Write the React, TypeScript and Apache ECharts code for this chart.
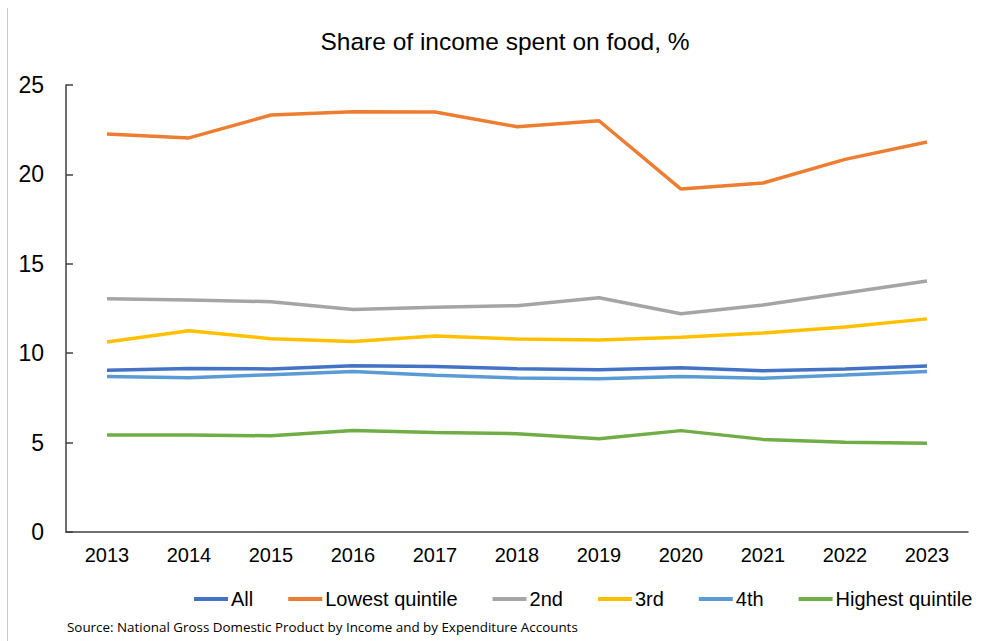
import React, { useEffect, useRef } from "react";
import * as echarts from "echarts";

const years = ["2013", "2014", "2015", "2016", "2017", "2018", "2019", "2020", "2021", "2022", "2023"];
const allHouseholds = [9.04, 9.15, 9.12, 9.3, 9.25, 9.13, 9.08, 9.19, 9.02, 9.12, 9.28];
const lowestQuintile = [22.26, 22.04, 23.32, 23.5, 23.49, 22.67, 23.0, 19.18, 19.52, 20.84, 21.81];
const secondQuintile = [13.05, 12.98, 12.88, 12.45, 12.57, 12.66, 13.1, 12.21, 12.7, 13.37, 14.04];
const thirdQuintile = [10.63, 11.26, 10.81, 10.66, 10.96, 10.79, 10.74, 10.89, 11.13, 11.47, 11.92];
const fourthQuintile = [8.69, 8.63, 8.8, 8.97, 8.76, 8.61, 8.57, 8.69, 8.6, 8.78, 8.97];
const highestQuintile = [5.43, 5.43, 5.38, 5.67, 5.56, 5.5, 5.22, 5.67, 5.18, 5.02, 4.96];

const seriesDefs = [
  { name: "All", data: allHouseholds, color: "#4472C4" },
  { name: "Lowest quintile", data: lowestQuintile, color: "#ED7D31" },
  { name: "2nd", data: secondQuintile, color: "#A5A5A5" },
  { name: "3rd", data: thirdQuintile, color: "#FFC000" },
  { name: "4th", data: fourthQuintile, color: "#5B9BD5" },
  { name: "Highest quintile", data: highestQuintile, color: "#70AD47" },
];

const FONT = "Liberation Sans, Arial, sans-serif";

export default function App() {
  const ref = useRef<HTMLDivElement>(null);
  useEffect(() => {
    if (!ref.current) return;
    const chart = echarts.init(ref.current, null, { renderer: "svg" });
    chart.setOption({
      animation: false,
      backgroundColor: "#ffffff",
      title: {
        text: "Share of income spent on food, %",
        left: 500,
        textAlign: "center",
        top: 24,
        textStyle: { fontFamily: FONT, fontSize: 24.5, fontWeight: "normal", color: "#000" },
      },
      grid: { left: 66, right: 13, top: 85, bottom: 109, containLabel: false },
      legend: {
        left: 189,
        top: 584,
        itemWidth: 34,
        itemHeight: 4,
        itemGap: 35,
        icon: "rect",
        textStyle: { fontFamily: FONT, fontSize: 20, color: "#000", padding: [0, 0, 0, -2] },
        data: seriesDefs.map((s) => s.name),
      },
      xAxis: {
        type: "category",
        data: years,
        boundaryGap: true,
        axisLine: { lineStyle: { color: "#404040", width: 1.5 } },
        axisTick: { inside: true, length: 6, lineStyle: { color: "#404040", width: 1.5 } },
        axisLabel: { fontFamily: FONT, fontSize: 20, color: "#000", margin: 13 },
      },
      yAxis: {
        type: "value",
        min: 0,
        max: 25,
        interval: 5,
        splitLine: { show: false },
        axisLine: { show: true, lineStyle: { color: "#404040", width: 1.5 } },
        axisTick: { show: true, inside: true, length: 7, lineStyle: { color: "#404040", width: 1.5 } },
        axisLabel: { fontFamily: FONT, fontSize: 23, color: "#000", margin: 22 },
      },
      graphic: [
        {
          type: "line",
          shape: { x1: 7.5, y1: 8, x2: 7.5, y2: 641 },
          style: { stroke: "#c8c8c8", lineWidth: 1 },
        },
        {
          type: "text",
          left: 67,
          top: 620,
          style: {
            text: "Source: National Gross Domestic Product by Income and by Expenditure Accounts",
            fontFamily: "Open Sans, Noto Sans, sans-serif",
            fontSize: 13.4,
            fill: "#000",
          },
        },
      ],
      series: seriesDefs.map((s) => ({
        name: s.name,
        type: "line",
        data: s.data,
        symbol: "none",
        color: s.color,
        lineStyle: { width: 3.5, color: s.color },
      })),
    });
    return () => chart.dispose();
  }, []);
  return (
    <div
      ref={ref}
      style={{ position: "fixed", left: 0, top: 0, width: 981, height: 641 }}
    />
  );
}
